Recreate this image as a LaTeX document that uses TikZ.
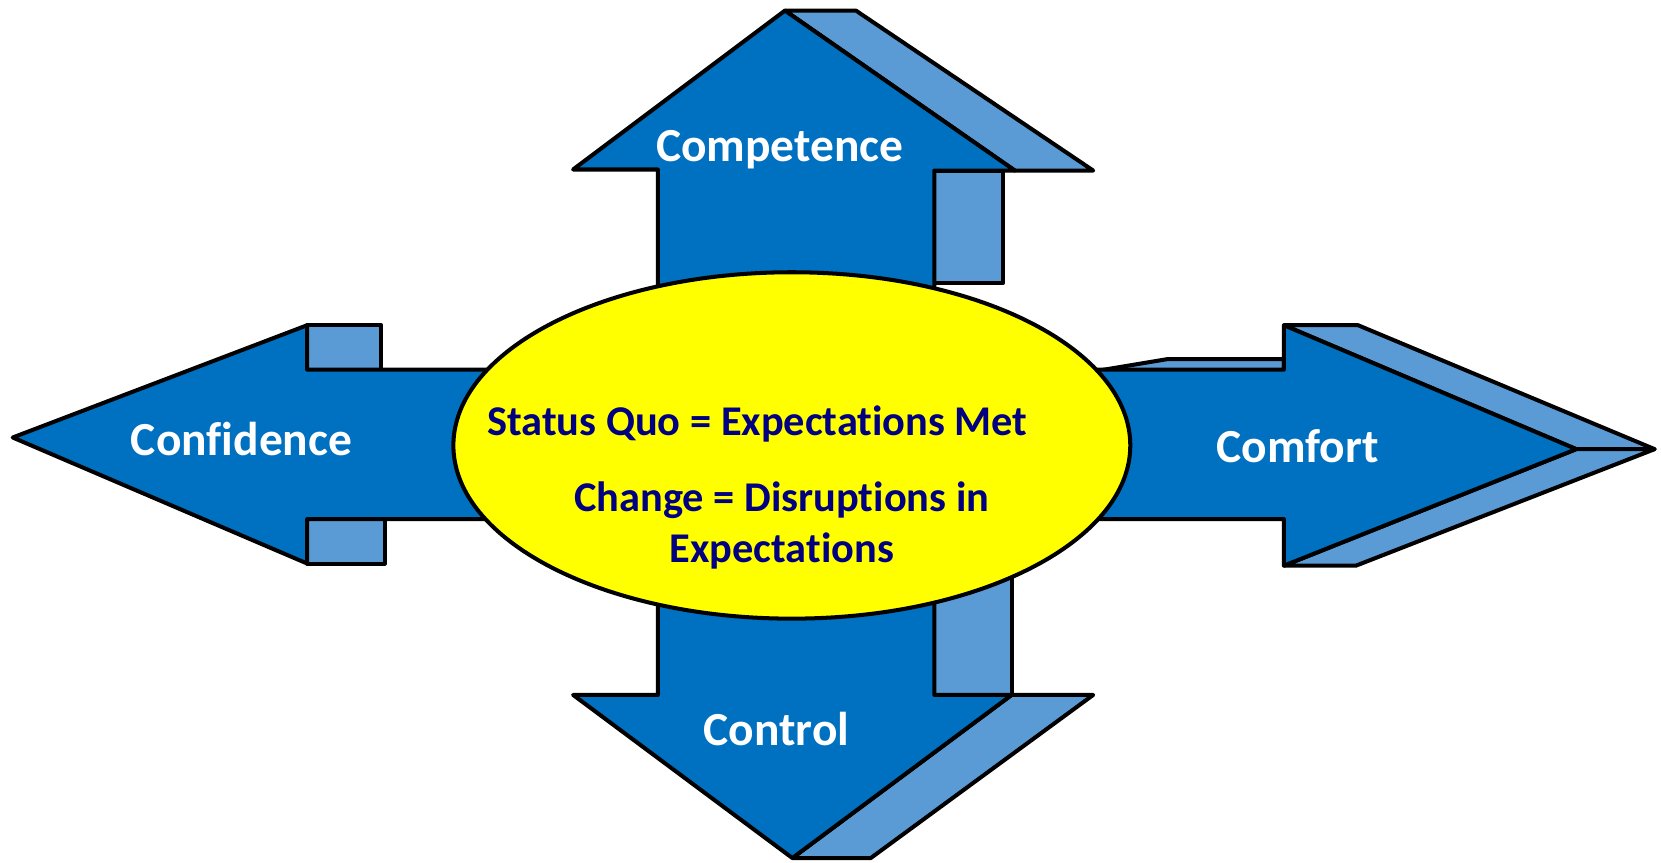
\documentclass[tikz,border=0pt]{standalone}
\usepackage{fontspec}
\setmainfont{Carlito}[Ligatures=CommonOff]
\usepackage{tikz}
\usetikzlibrary{positioning}
\definecolor{arrowblue}{HTML}{0070C0}
\definecolor{sideblue}{HTML}{5B9BD5}
\definecolor{quoblue}{HTML}{000080}
\definecolor{quoyellow}{HTML}{FFFF00}
\tikzstyle{front} = [draw=black, fill=arrowblue, line width=1.9pt, line join=round]
\tikzstyle{side} = [draw=black, fill=sideblue, line width=1.9pt, line join=round]
\tikzstyle{core} = [draw=black, fill=quoyellow, line width=1.9pt]
\tikzstyle{cname} = [text=white, font=\fontsize{22.4}{27}\selectfont\bfseries, inner sep=0pt]
\tikzstyle{quo} = [text=quoblue, font=\fontsize{20}{24}\selectfont\bfseries, inner sep=0pt, align=center]

\begin{document}
\begin{tikzpicture}[x=0.5pt, y=-0.5pt]
					\useasboundingbox (0,0) rectangle (1568,814);
					% competence, up
					\draw[side] (741,10) -- (808,10) -- (1032,161) -- (958,161) -- cycle;
					\draw[side] (882,161) rectangle (947,267);
					\draw[front] (741,10) -- (958,161) -- (882,161) -- (882,320) -- (621,320) -- (621,160) -- (541,160) -- cycle;
					% confidence, left
					\draw[side] (290,307) rectangle (360,349);
					\draw[side] (290,490) rectangle (363,532);
					\draw[front] (12,413) -- (290,307) -- (290,349) -- (480,349) -- (480,490) -- (290,490) -- (290,532) -- cycle;
					% comfort, right
					\draw[side] (1036,350) -- (1102,339) -- (1212,339) -- (1212,350) -- cycle;
					\draw[side] (1212,307) -- (1282,307) -- (1562,424) -- (1488,424) -- cycle;
					\draw[side] (1212,534) -- (1280,534) -- (1562,424) -- (1488,424) -- cycle;
					\draw[front] (1010,349) -- (1212,349) -- (1212,307) -- (1488,424) -- (1212,534) -- (1212,490) -- (1010,490) -- cycle;
					% control, down
					\draw[side] (882,520) rectangle (955,656);
					\draw[side] (955,656) -- (1032,656) -- (822,810) -- (748,810) -- cycle;
					\draw[front] (621,530) -- (621,656) -- (541,656) -- (748,810) -- (955,656) -- (882,656) -- (882,530) -- cycle;
					% status quo
					\draw[core] (747.5,420.5) ellipse [x radius=319.5, y radius=163.5];
					\node[quo] (statusquo) at (715,400) {Status Quo = Expectations Met};
					\node[quo] (change) at (738,496) {Change = Disruptions in\\Expectations};
					\node[cname] (competence) at (736,141) {Competence};
					\node[cname] (confidence) at (228,414) {Confidence};
					\node[cname] (comfort) at (1225,421) {Comfort};
					\node[cname] (control) at (733,688) {Control};
\end{tikzpicture}
\end{document}
